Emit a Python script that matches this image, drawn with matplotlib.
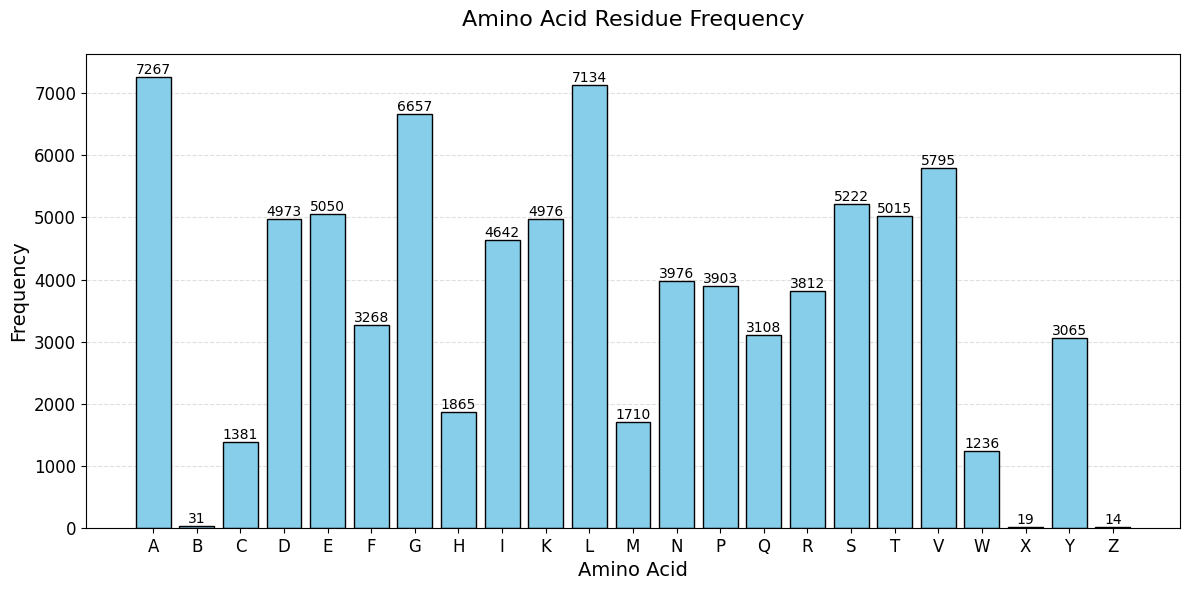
import matplotlib
matplotlib.use("Agg")
import matplotlib.pyplot as plt

amino_acids = ["A", "B", "C", "D", "E", "F", "G", "H", "I", "K", "L", "M",
               "N", "P", "Q", "R", "S", "T", "V", "W", "X", "Y", "Z"]
frequencies = [7267, 31, 1381, 4973, 5050, 3268, 6657, 1865, 4642, 4976, 7134, 1710,
               3976, 3903, 3108, 3812, 5222, 5015, 5795, 1236, 19, 3065, 14]

fig, ax = plt.subplots(figsize=(11.89, 5.90), dpi=100)
bars = ax.bar(amino_acids, frequencies, color="skyblue", edgecolor="black")
for b, v in zip(bars, frequencies):
    ax.text(b.get_x() + b.get_width() / 2, b.get_height(), str(v),
            ha="center", va="bottom", fontsize=10)
ax.set_title("Amino Acid Residue Frequency", fontsize=16, pad=20)
ax.set_xlabel("Amino Acid", fontsize=14)
ax.set_ylabel("Frequency", fontsize=14)
ax.tick_params(axis="both", labelsize=12)
ax.grid(axis="y", linestyle="--", alpha=0.4)
ax.set_axisbelow(True)
fig.subplots_adjust(left=0.0723, right=0.9924, top=0.9085, bottom=0.1051)
fig.savefig("out.png", dpi=100)
